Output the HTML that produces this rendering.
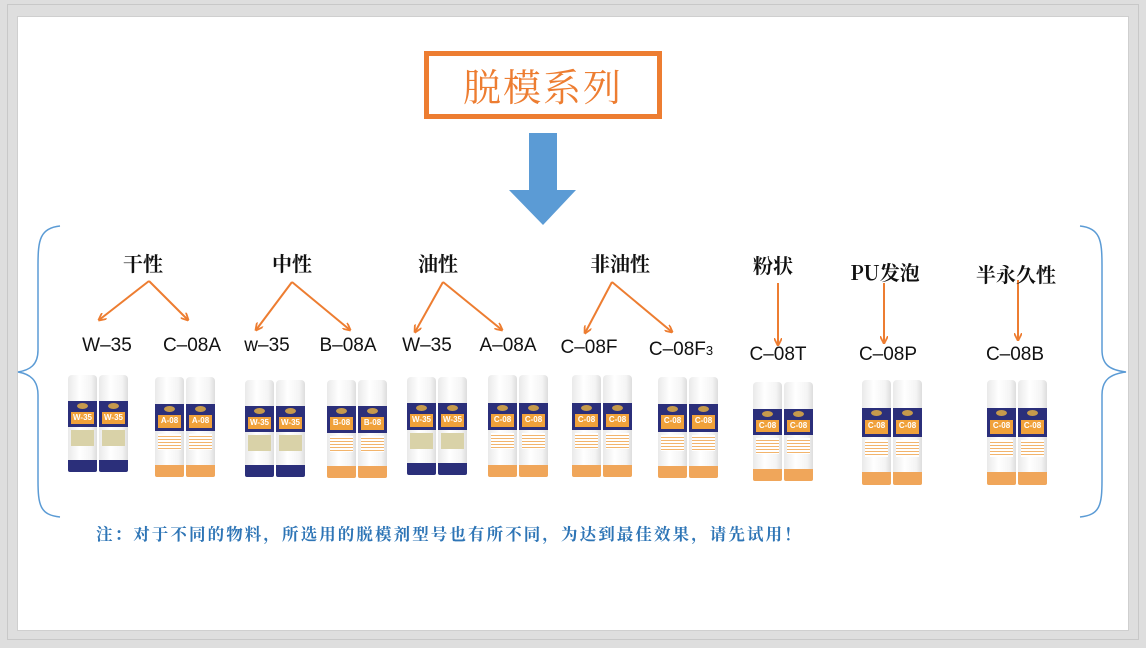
<!DOCTYPE html>
<html><head><meta charset="utf-8">
<style>
body{margin:0;width:1146px;height:648px;overflow:hidden;background:#dedede;position:relative;font-family:"Liberation Sans","Noto Sans CJK SC",sans-serif}
#frame{position:absolute;left:7px;top:4px;width:1132px;height:636px;border:1px solid #c8c8c8;box-sizing:border-box}
#page{position:absolute;left:17px;top:16px;width:1112px;height:615px;background:#fff;border:1px solid #cfcfcf;box-sizing:border-box}
.t{position:absolute;white-space:nowrap}
.cat{font-family:"Noto Serif CJK SC","WenQuanYi Zen Hei",serif;font-weight:bold;font-size:20px;color:#111;transform:translateX(-50%)}
.sub{font-size:19px;color:#111;transform:translateX(-50%)}
.can{position:absolute;width:29px;border-radius:4px 4px 2px 2px;overflow:hidden;background:linear-gradient(90deg,#e9e9e9,#fff 40%,#f4f4f4 80%,#ddd)}
.can .band{position:absolute;left:0;right:0;top:27%;height:27%;background:#2b2f7a}
.can .lab{position:absolute;left:3px;right:3px;top:38%;height:13%;background:#f0a13a;color:#fff;font:bold 8px "Liberation Sans",sans-serif;text-align:center;line-height:12px}
.can .logo{position:absolute;left:9px;top:29%;width:11px;height:6px;border-radius:50%;background:#c69a4c}
.can .mid{position:absolute;left:3px;right:3px;top:57%;height:16%;background:repeating-linear-gradient(#fff 0 2px,#f2b46c 2px 3px)}
.can .base{position:absolute;left:0;right:0;bottom:0;height:12%;background:#f0a65a}
.can.w .mid{background:#d9d2a8}
.can.w .base{background:#2b2f7a}
</style></head><body>
<div id="frame"></div>
<div id="page"></div>
<div class="t" style="left:424px;top:51px;width:238px;height:68px;border:5px solid #ed7d31;box-sizing:border-box;text-align:center;font-family:'Noto Serif CJK SC',serif;font-size:38px;line-height:58px;color:#ed7d31;letter-spacing:2px">脱模系列</div>
<svg style="position:absolute;left:0;top:0" width="1146" height="648">
<polygon points="529,133 557,133 557,190 576,190 543,225 509,190 529,190" fill="#5b9bd5"/>
<path d="M60,226 C40,228 38,240 38,265 L38,350 C38,365 30,370 18,372 C30,374 38,380 38,395 L38,480 C38,505 40,515 60,517" fill="none" stroke="#5b9bd5" stroke-width="1.5"/>
<path d="M1080,226 C1100,228 1102,240 1102,265 L1102,350 C1102,365 1110,370 1126,372 C1110,374 1102,380 1102,395 L1102,480 C1102,505 1100,515 1080,517" fill="none" stroke="#5b9bd5" stroke-width="1.5"/>
<defs><marker id="a" markerWidth="8" markerHeight="8" refX="7" refY="4" orient="auto" markerUnits="userSpaceOnUse"><path d="M0,0 L8,4 L0,8" fill="none" stroke="#ed7d31" stroke-width="1.8"/></marker></defs>
<g stroke="#ed7d31" stroke-width="2" fill="none" marker-end="url(#a)">
<line x1="149" y1="281" x2="99" y2="320"/><line x1="149" y1="281" x2="188" y2="320"/>
<line x1="292" y1="282" x2="256" y2="330"/><line x1="292" y1="282" x2="350" y2="330"/>
<line x1="443" y1="282" x2="415" y2="332"/><line x1="443" y1="282" x2="502" y2="330"/>
<line x1="612" y1="282" x2="585" y2="333"/><line x1="612" y1="282" x2="672" y2="332"/>
<line x1="778" y1="283" x2="778" y2="345"/><line x1="884" y1="283" x2="884" y2="343"/><line x1="1018" y1="280" x2="1018" y2="340"/>
</g>
</svg>
<div class="t cat" style="left:143px;top:248px">干性</div>
<div class="t cat" style="left:292px;top:248px">中性</div>
<div class="t cat" style="left:438px;top:248px">油性</div>
<div class="t cat" style="left:620px;top:248px">非油性</div>
<div class="t cat" style="left:773px;top:250px">粉状</div>
<div class="t cat" style="left:885px;top:257px">PU发泡</div>
<div class="t cat" style="left:1016px;top:259px">半永久性</div>
<div class="t sub" style="left:107px;top:335px">W–35</div>
<div class="t sub" style="left:192px;top:335px">C–08A</div>
<div class="t sub" style="left:267px;top:335px">w–35</div>
<div class="t sub" style="left:348px;top:335px">B–08A</div>
<div class="t sub" style="left:427px;top:335px">W–35</div>
<div class="t sub" style="left:508px;top:335px">A–08A</div>
<div class="t sub" style="left:589px;top:337px">C–08F</div>
<div class="t sub" style="left:681px;top:339px">C–08F<span style="font-size:13px">3</span></div>
<div class="t sub" style="left:778px;top:344px">C–08T</div>
<div class="t sub" style="left:888px;top:344px">C–08P</div>
<div class="t sub" style="left:1015px;top:344px">C–08B</div>
<div class="t" style="left:96px;top:521px;font-family:'Noto Serif CJK SC',serif;font-weight:bold;font-size:16.5px;color:#2e75b6;letter-spacing:2.1px">注：对于不同的物料，所选用的脱模剂型号也有所不同，为达到最佳效果，请先试用！</div>
<div id="cans"></div>
<script>
var d=[[68,375,472,1,'W-35'],[155,377,477,0,'A-08'],[245,380,477,1,'W-35'],[327,380,478,0,'B-08'],[407,377,475,1,'W-35'],[488,375,477,0,'C-08'],[572,375,477,0,'C-08'],[658,377,478,0,'C-08'],[753,382,481,0,'C-08'],[862,380,485,0,'C-08'],[987,380,485,0,'C-08']];
var h='';d.forEach(function(c){for(var i=0;i<2;i++){h+='<div class="can'+(c[3]?' w':'')+'" style="left:'+(c[0]+i*31)+'px;top:'+c[1]+'px;height:'+(c[2]-c[1])+'px"><div class="band"></div><div class="logo"></div><div class="lab">'+c[4]+'</div><div class="mid"></div><div class="base"></div></div>';}});
document.getElementById('cans').innerHTML=h;
</script>
</body></html>
